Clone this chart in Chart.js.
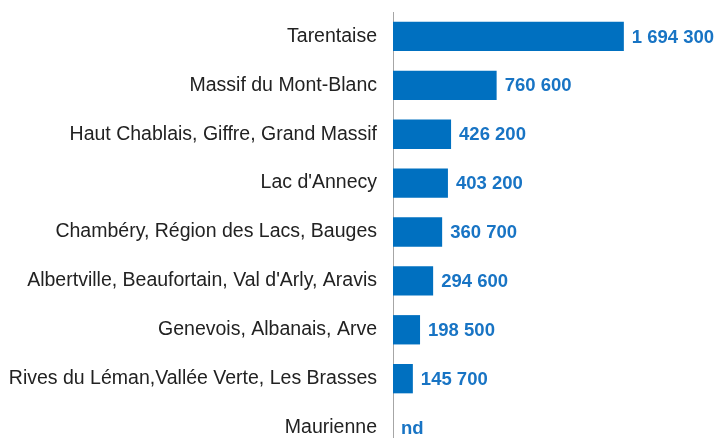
<!DOCTYPE html>
<html>
<head>
<meta charset="utf-8">
<script src="https://cdn.jsdelivr.net/npm/chart.js@4/dist/chart.umd.min.js"></script>
<style>
    html, body {margin: 0; padding: 0; overflow: hidden; background: #fff;}
    #wrap {width: 720px; height: 438px; overflow: hidden;}
</style>
</head>
<body>
<div id="wrap"><canvas id="chart" width="720" height="452"></canvas></div>
<script>
const categories = [
    'Tarentaise',
    'Massif du Mont-Blanc',
    'Haut Chablais, Giffre, Grand Massif',
    "Lac d'Annecy",
    'Chambéry, Région des Lacs, Bauges',
    "Albertville, Beaufortain, Val d'Arly, Aravis",
    'Genevois, Albanais, Arve',
    'Rives du Léman,Vallée Verte, Les Brasses',
    'Maurienne',
]
const values = [1694300, 760600, 426200, 403200, 360700, 294600, 198500, 145700, null]
const missingLabel = 'nd'

const fmt = v => String(v).replace(/\B(?=(\d{3})+(?!\d))/g, ' ')

new Chart(document.getElementById('chart'), {
    type: 'bar',
    data: {
        labels: categories,
        datasets: [{
            data: values,
            backgroundColor: '#0070C0',
            barPercentage: 0.6,
            categoryPercentage: 1,
        }],
    },
    options: {
        indexAxis: 'y',
        responsive: false,
        animation: false,
        layout: {padding: {top: 12, right: 0, bottom: 0, left: 0}},
        plugins: {
            legend: {display: false},
            tooltip: {enabled: false},
        },
        scales: {
            x: {
                display: false,
                min: 0,
                max: 2400000,
            },
            y: {
                grid: {display: false, drawTicks: false},
                border: {display: true, color: '#A6A6A6', width: 1},
                ticks: {
                    color: '#222222',
                    padding: 16,
                    font: {family: '"Liberation Sans", Arial, sans-serif', size: 19.5},
                },
                afterFit: scale => {
                    scale.width = 393
                    // no extra room for first/last labels, the axis runs off the bottom
                    scale.paddingTop = 0
                    scale.paddingBottom = 0
                },
            },
        },
    },
    plugins: [{
        id: 'bar-value-labels',
        afterDatasetsDraw(chart) {
            const {ctx, scales: {x, y}} = chart
            ctx.save()
            ctx.fillStyle = '#1874C4'
            ctx.font = 'bold 18.5px "Liberation Sans", Arial, sans-serif'
            ctx.textAlign = 'left'
            ctx.textBaseline = 'middle'
            chart.data.datasets[0].data.forEach((value, i) => {
                const text = value == null ? missingLabel : fmt(value)
                ctx.fillText(text, x.getPixelForValue(value ?? 0) + 8, y.getPixelForValue(i) + 1)
            })
            ctx.restore()
        },
    }],
})
</script>
</body>
</html>
